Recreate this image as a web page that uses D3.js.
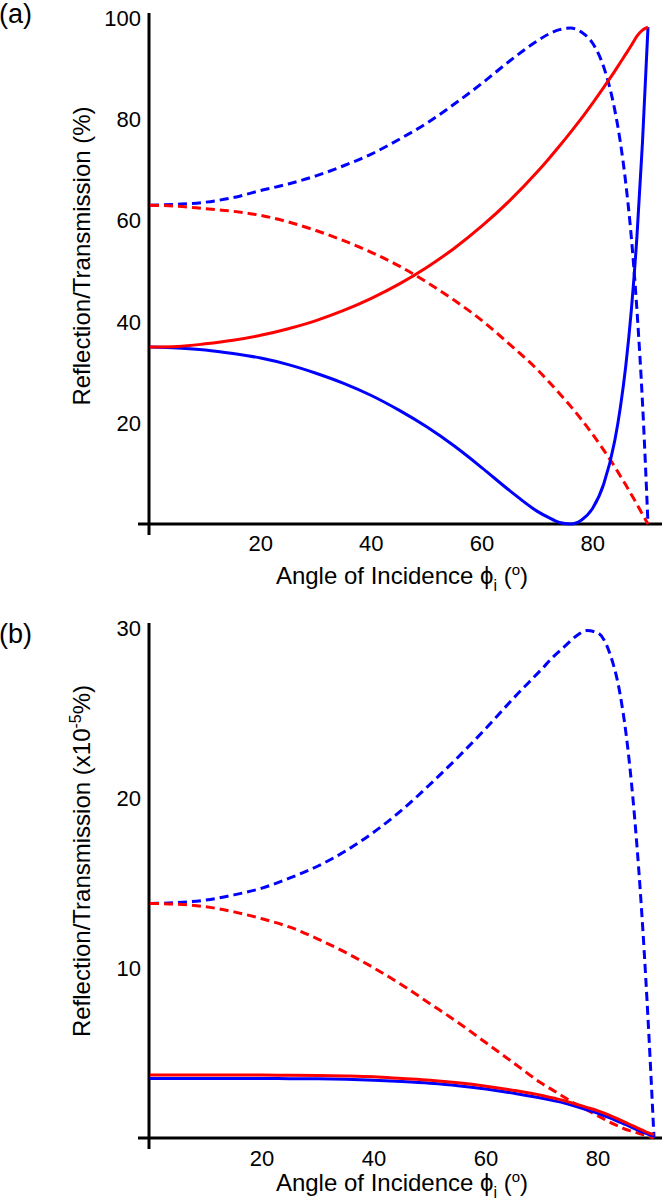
<!DOCTYPE html>
<html><head><meta charset="utf-8">
<script src="https://cdn.jsdelivr.net/npm/d3@7"></script>
<style>
html,body{margin:0;padding:0;background:#fff;}
svg text{font-family:"Liberation Sans",Arial,Helvetica,sans-serif;fill:#000;}
</style></head>
<body>
<svg id="c" width="665" height="1202"></svg>
<script>
// ---- data ----
const angles = [0,5,10,15,20,25,30,35,40,45,50,55,60,65,70,72,74,76,78,80,82,84,85,86,87,88,89,90];

// panel (a), %
const aRs = [35.0,35.1,35.6,36.3,37.3,38.6,40.2,42.2,44.6,47.4,50.7,54.5,58.9,63.9,69.6,72.1,74.7,77.4,80.2,83.2,86.3,89.5,91.2,92.9,94.6,96.4,97.6,98.2];
const aRp = [35.0,34.8,34.4,33.7,32.8,31.5,29.8,27.8,25.4,22.5,19.2,15.4,11.1,6.6,2.5,1.3,0.3,0.0,0.8,3.1,7.9,16.5,23.0,31.4,42.4,56.8,75.4,98.2];
const aTs = [63.0,62.8,62.3,61.8,61.0,59.7,58.0,56.0,53.7,51.0,47.8,44.2,40.2,35.5,30.5,28.2,25.8,23.3,20.6,17.7,14.6,11.3,9.5,7.7,5.8,3.9,1.9,0.0];
const aTp = [63.0,63.2,63.6,64.5,65.9,67.2,68.8,70.8,73.1,76.0,79.2,83.0,87.1,91.5,95.5,96.8,97.7,98.0,97.2,95.0,90.3,81.8,75.5,67.2,56.5,42.3,24.1,0.0];

// panel (b), x10^-5 %
const bRs = [3.7,3.7,3.7,3.7,3.7,3.69,3.68,3.65,3.6,3.5,3.4,3.25,3.05,2.8,2.5,2.35,2.2,2.0,1.8,1.6,1.35,1.05,0.9,0.75,0.6,0.45,0.3,0.2];
const bRp = [3.5,3.5,3.5,3.5,3.5,3.49,3.48,3.45,3.4,3.32,3.22,3.08,2.88,2.63,2.34,2.2,2.05,1.86,1.66,1.45,1.2,0.92,0.78,0.63,0.48,0.34,0.22,0.12];
const bTs = [13.8,13.75,13.6,13.3,12.9,12.4,11.7,10.9,10.0,9.0,7.9,6.8,5.6,4.4,3.2,2.8,2.4,2.0,1.65,1.3,0.95,0.65,0.5,0.4,0.3,0.2,0.1,0.0];
const bTp = [13.8,13.85,14.0,14.3,14.7,15.3,16.0,16.9,18.0,19.3,20.8,22.4,24.1,25.9,27.6,28.3,28.9,29.5,29.85,29.7,28.6,26.0,23.8,20.8,17.0,12.3,6.6,0.0];

const xTicks = [20,40,60,80];
const aYTicks = [20,40,60,80,100];
const bYTicks = [10,20,30];

// ---- drawing ----
const svg = d3.select("#c");
const RED = "#ff0000", BLUE = "#0000ff";
const TICK_FS = 22, TITLE_FS = 24;

function panel(cfg){
  const g = svg.append("g");
  const x = d3.scaleLinear().domain([0,90]).range([150, cfg.xEnd]);
  const y = d3.scaleLinear().domain([0, cfg.yMax]).range([cfg.y0, cfg.yTop]);

  // axes lines
  g.append("line").attr("x1",149).attr("x2",149).attr("y1",cfg.axisTop).attr("y2",cfg.y0+11)
    .attr("stroke","#000").attr("stroke-width",3);
  g.append("line").attr("x1",138).attr("x2",662).attr("y1",cfg.y0).attr("y2",cfg.y0)
    .attr("stroke","#000").attr("stroke-width",3);

  // y tick labels
  g.selectAll(".yt").data(cfg.yTicks).join("text")
    .attr("x",141).attr("y",d=>y(d)).attr("dy","0.36em")
    .attr("text-anchor","end").attr("font-size",TICK_FS).text(d=>d);

  // x tick labels
  g.selectAll(".xt").data(xTicks).join("text")
    .attr("x",d=>x(d)).attr("y",cfg.y0+cfg.xTickDy)
    .attr("text-anchor","middle").attr("font-size",TICK_FS).text(d=>d);

  const line = vals => d3.line().x((d,i)=>x(angles[i])).y(d=>y(d)).curve(d3.curveMonotoneX)(vals);
  const series = [
    {v:cfg.Tp, c:BLUE, dash:"9,5"},
    {v:cfg.Ts, c:RED, dash:"9,5"},
    {v:cfg.Rp, c:BLUE, dash:null},
    {v:cfg.Rs, c:RED, dash:null}
  ];
  series.forEach(s=>{
    g.append("path").attr("d",line(s.v)).attr("fill","none")
      .attr("stroke",s.c).attr("stroke-width",3)
      .attr("stroke-dasharray",s.dash);
  });

  // panel label
  g.append("text").attr("x",-1).attr("y",cfg.labelY).attr("font-size",27).text(cfg.label);

  // x title
  const xt = g.append("text").attr("x",402).attr("y",cfg.y0+cfg.xTitleDy).attr("text-anchor","middle").attr("font-size",TITLE_FS);
  xt.append("tspan").text("Angle of Incidence \u03D5");
  xt.append("tspan").attr("font-size",16).attr("dy",7).text("i");
  xt.append("tspan").attr("dy",-7).text(" (");
  xt.append("tspan").attr("font-size",15).attr("dy",-9).text("o");
  xt.append("tspan").attr("dy",9).text(")");

  // y title
  const yt = g.append("text").attr("transform",`translate(90,${cfg.yTitleY}) rotate(-90)`)
    .attr("text-anchor","middle").attr("font-size",TITLE_FS);
  cfg.yTitle(yt);
}

panel({label:"(a)", labelY:23, y0:524, yTop:18, axisTop:13, yMax:100, xEnd:648, xTickDy:27, xTitleDy:60,
  yTicks:aYTicks, Rs:aRs, Rp:aRp, Ts:aTs, Tp:aTp, yTitleY:256,
  yTitle: t=>{ t.append("tspan").text("Reflection/Transmission (%)"); }});

panel({label:"(b)", labelY:643, y0:1138, yTop:628, axisTop:623, yMax:30, xEnd:654, xTickDy:28, xTitleDy:53,
  yTicks:bYTicks, Rs:bRs, Rp:bRp, Ts:bTs, Tp:bTp, yTitleY:861,
  yTitle: t=>{
    t.append("tspan").text("Reflection/Transmission (x10");
    t.append("tspan").attr("font-size",16).attr("dy",-9).text("-5");
    t.append("tspan").attr("dy",9).text("%)");
  }});
</script>
</body></html>
